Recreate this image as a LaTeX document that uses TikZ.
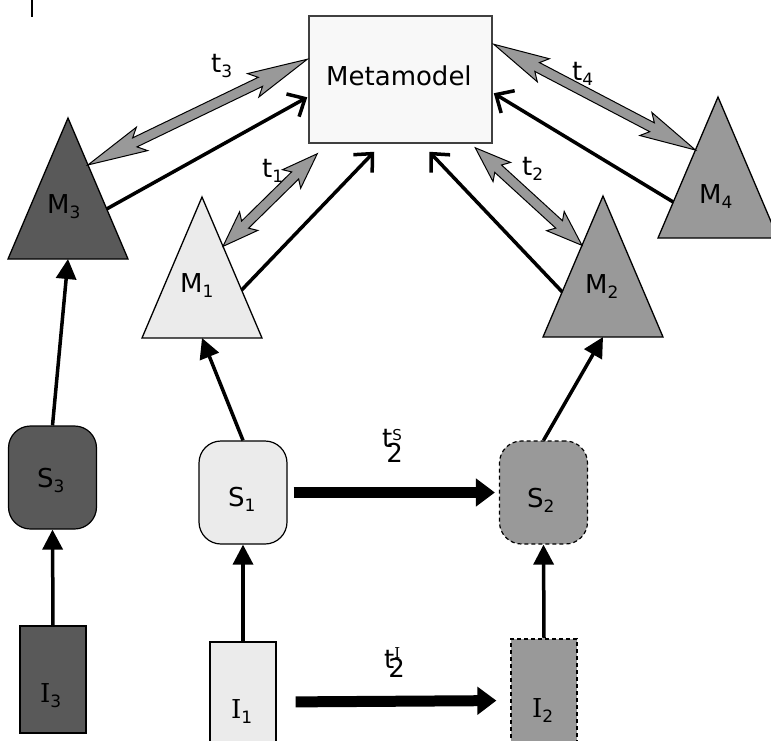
\documentclass[tikz,border=0pt]{standalone}
\usepackage{fontspec}
\setmainfont{DejaVu Sans}
\newfontfamily\serifI{DejaVu Serif}
\usetikzlibrary{calc,arrows.meta}
\definecolor{dk}{HTML}{595959}
\definecolor{lt}{HTML}{EBEBEB}
\definecolor{md}{HTML}{999999}
\definecolor{mf}{HTML}{F8F8F8}
\definecolor{bd}{HTML}{404040}
\newcommand{\mysub}[1]{\raisebox{-5pt}{\fontsize{17}{17}\selectfont #1}}
\newcommand{\tri}[4]{%
  \coordinate (#1a) at (#2,#3);
  \coordinate (#1l) at (#2-60,#3+141);
  \coordinate (#1r) at (#2+60,#3+141);
  \coordinate (#1b) at (#2,#3+141);
  \draw[tri,fill=#4] (#1a) -- (#1l) -- (#1r) -- cycle;}
\newcommand{\dbl}[4]{%
  \filldraw[dblarrow] (#1)
   -- ($(#1)!#3pt!(#2)!13pt!90:(#2)$)
   -- ($(#1)!#4pt!(#2)!5pt!90:(#2)$)
   -- ($(#2)!#4pt!(#1)!5pt!-90:(#1)$)
   -- ($(#2)!#3pt!(#1)!13pt!-90:(#1)$)
   -- (#2)
   -- ($(#2)!#3pt!(#1)!13pt!90:(#1)$)
   -- ($(#2)!#4pt!(#1)!5pt!90:(#1)$)
   -- ($(#1)!#4pt!(#2)!5pt!-90:(#2)$)
   -- ($(#1)!#3pt!(#2)!13pt!-90:(#2)$)
   -- cycle;}
\begin{document}
\begin{tikzpicture}[x=1pt,y=-1pt,
  lbl/.style={font=\fontsize{26}{26}\selectfont, inner sep=0, anchor=base west},
  tri/.style={draw=black, line width=1.3pt, line join=miter},
  metabox/.style={draw=bd, fill=mf, line width=1.5pt, minimum width=183pt, minimum height=127pt, inner sep=0},
  sbox/.style={draw=black, line width=1.2pt, rounded corners=22pt, minimum width=88pt, minimum height=103pt, inner sep=0},
  ibox/.style={draw=black, line width=1.2pt, minimum width=66pt, inner sep=0},
  dashbox/.style={dash pattern=on 4pt off 3pt},
  dblarrow/.style={fill=md, draw=black, line width=1pt, line join=miter},
  up/.style={line width=3.5pt, -{Triangle[length=20pt,width=20pt]}},
  tometa/.style={line width=3.5pt, -{Straight Barb[length=14pt,width=26pt]}},
  big/.style={line width=11pt, -{Triangle[length=19pt,width=27pt]}},
]
\useasboundingbox (0,0) rectangle (771,740);

% stray mark
\draw[line width=1.5pt] (32,0) -- (32,17);

% metamodel
\node[metabox] (meta) at (400.5,79.5) {};
\node[lbl] (metaText) at (326,85) {Metamodel};

% triangles
\tri{M3}{68}{118}{dk}
\tri{M1}{202}{197}{lt}
\tri{M2}{603}{196}{md}
\tri{M4}{718}{97}{md}

% boxes
\node[sbox, fill=dk] (S3) at (52.5,477.5) {};
\node[sbox, fill=lt] (S1) at (243,492.5) {};
\node[sbox, fill=md, dashbox] (S2) at (543.5,492.5) {};
\node[ibox, fill=dk, minimum height=107pt] (I3) at (53,679.5) {};
\node[ibox, fill=lt, minimum height=120pt] (I1) at (243,702) {};
\node[ibox, fill=md, dashbox, minimum height=123pt] (I2) at (544,700.5) {};

% attach points
\coordinate (mT3) at ($(meta.north west)+(-1,44)$);
\coordinate (mM3) at ($(meta.north west)+(-1,82)$);
\coordinate (mT1) at ($(meta.south west)+(9,10)$);
\coordinate (mM1) at ($(meta.south west)+(66,8)$);
\coordinate (mM2) at ($(meta.south west)+(121,8)$);
\coordinate (mT2) at ($(meta.south west)+(167,4)$);
\coordinate (mT4) at ($(meta.north east)+(1,29)$);
\coordinate (mM4) at ($(meta.north east)+(1,78)$);
\coordinate (M3e1) at ($(M3a)!0.333!(M3r)$);
\coordinate (M3e2) at ($(M3a)!0.645!(M3r)$);
\coordinate (M1e1) at ($(M1a)!0.35!(M1r)$);
\coordinate (M1e2) at ($(M1a)!0.66!(M1r)$);
\coordinate (M2e1) at ($(M2a)!0.35!(M2l)$);
\coordinate (M2e2) at ($(M2a)!0.68!(M2l)$);
\coordinate (M4e1) at ($(M4a)!0.376!(M4l)$);
\coordinate (M4e2) at ($(M4a)!0.745!(M4l)$);

% gray double arrows
\dbl{M3e1}{mT3}{60}{52}
\dbl{M1e1}{mT1}{36}{31}
\dbl{M2e1}{mT2}{36}{31}
\dbl{M4e1}{mT4}{56}{49}

% black arrows to metamodel
\draw[tometa] (M3e2) -- (mM3);
\draw[tometa] (M1e2) -- (mM1);
\draw[tometa] (M2e2) -- (mM2);
\draw[tometa] (M4e2) -- (mM4);

% vertical arrows
\draw[up] (I3.north) -- (S3.south);
\draw[up] (I1.north) -- (S1.south);
\draw[up] (I2.north) -- (S2.south);
\draw[up] (S3.north) -- (M3b);
\draw[up] (S1.north) -- (M1b);
\draw[up] (S2.north) -- (M2b);

% thick arrows
\draw[big, yshift=4pt, shorten <=6pt, shorten >=4pt] (S1.east) -- (S2.west);
\draw[big, shorten <=19pt, shorten >=14pt] (I1.east) -- (I2.west);

% labels
\node[lbl] (M3t) at (47,213) {M\mysub{3}};
\node[lbl] (M1t) at (180,292) {M\mysub{1}};
\node[lbl] (M2t) at (585,293) {M\mysub{2}};
\node[lbl] (M4t) at (699,203) {M\mysub{4}};
\node[lbl] (S3t) at (37,487) {S\mysub{3}};
\node[lbl] (S1t) at (228,506) {S\mysub{1}};
\node[lbl] (S2t) at (527,507) {S\mysub{2}};
\node[lbl] (I3t) at (40,702) {{\serifI I}\mysub{3}};
\node[lbl] (I1t) at (231,718) {{\serifI I}\mysub{1}};
\node[lbl] (I2t) at (532,717) {{\serifI I}\mysub{2}};
\node[lbl] (t3t) at (211,72) {t\mysub{3}};
\node[lbl] (t1t) at (262,177) {t\mysub{1}};
\node[lbl] (t4t) at (572,80) {t\mysub{4}};
\node[lbl] (t2t) at (522,175) {t\mysub{2}};
\node[lbl] (tSt) at (382,447) {t\rlap{\raisebox{7pt}{\fontsize{15}{15}\selectfont S}}\kern-6pt\raisebox{-15pt}{2}};
\node[lbl] (tIt) at (384,668) {t\rlap{\raisebox{10pt}{\fontsize{15}{15}\selectfont\serifI I}}\kern-6pt\raisebox{-9pt}{2}};
\end{tikzpicture}
\end{document}
